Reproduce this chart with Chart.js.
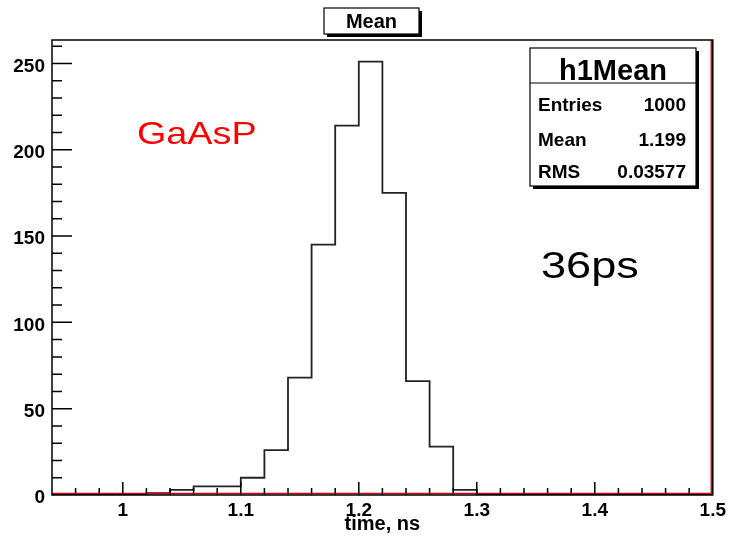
<!DOCTYPE html>
<html lang="en-US">
  <head>
    <meta charset="utf-8" />
    <title>h1Mean</title>
    <script src="https://cdn.jsdelivr.net/npm/chart.js@4/dist/chart.umd.min.js"></script>
    <style>
      html, body { margin: 0; padding: 0; background: #fff; }
      #wrap { width: 730px; height: 543px; }
    </style>
  </head>
  <body>
    <div id="wrap"><canvas id="chart0" width="730" height="543"></canvas></div>
  </body>

  <script>
    // histogram h1Mean: 28 bins of 0.02 ns from 0.94 to 1.5
    const binLowEdges = [0.94, 0.96, 0.98, 1.00, 1.02, 1.04, 1.06, 1.08, 1.10, 1.12, 1.14, 1.16, 1.18, 1.20,
                         1.22, 1.24, 1.26, 1.28, 1.30, 1.32, 1.34, 1.36, 1.38, 1.40, 1.42, 1.44, 1.46, 1.48]
    const binCounts = [0, 0, 0, 0, 1, 3, 5, 5, 10, 26, 68, 145, 214, 251,
                       175, 66, 28, 3, 0, 0, 0, 0, 0, 0, 0, 0, 0, 0]
    const xMax = 1.5
    const yMax = 263.55

    const xTickValues = [1, 1.1, 1.2, 1.3, 1.4, 1.5]
    const yTickValues = [0, 50, 100, 150, 200, 250]

    const histTitle = "Mean"
    const statsName = "h1Mean"
    const statsLabels = ["Entries", "Mean", "RMS"]
    const statsValues = ["1000", "1.199", "0.03577"]

    const FONT = "'Liberation Sans', Arial, Helvetica, sans-serif"
    Chart.defaults.font.family = FONT

    // step outline: one point per low edge, plus the upper edge of the last bin
    const points = binLowEdges.map((x, i) => ({ x: x, y: binCounts[i] }))
    points.push({ x: xMax, y: binCounts[binCounts.length - 1] })

    function stretchedText(ctx, text, x, y, size, color, sx) {
      ctx.save()
      ctx.font = size + "px " + FONT
      ctx.fillStyle = color
      ctx.textAlign = "left"
      ctx.textBaseline = "alphabetic"
      ctx.translate(x, y)
      ctx.scale(sx, 1)
      ctx.fillText(text, 0, 0)
      ctx.restore()
    }

    function shadowBox(ctx, x, y, w, h) {
      ctx.fillStyle = "#000"
      ctx.fillRect(x + 3, y + 3, w, h)
      ctx.fillStyle = "#fff"
      ctx.fillRect(x, y, w, h)
      ctx.strokeStyle = "#000"
      ctx.lineWidth = 1.2
      ctx.strokeRect(x, y, w, h)
    }

    const rootFrame = {
      id: "rootFrame",
      afterDraw(chart) {
        const ctx = chart.ctx
        const { left, right, top, bottom } = chart.chartArea
        const xs = chart.scales.x
        const ys = chart.scales.y

        ctx.save()
        // red lines along bottom and right
        ctx.strokeStyle = "#e00000"
        ctx.lineWidth = 1.5
        ctx.beginPath()
        ctx.moveTo(left, bottom - 1.5)
        ctx.lineTo(right - 1.5, bottom - 1.5)
        ctx.lineTo(right - 1.5, top)
        ctx.stroke()

        // frame
        ctx.strokeStyle = "#000"
        ctx.lineWidth = 1.5
        ctx.strokeRect(left, top, right - left, bottom - top)

        // inward ticks
        ctx.lineWidth = 1.5
        ctx.beginPath()
        for (let i = 1; i < binLowEdges.length; i++) {
          const v = binLowEdges[i]
          const px = xs.getPixelForValue(v)
          const major = xTickValues.some(t => Math.abs(t - v) < 1e-6)
          ctx.moveTo(px, bottom)
          ctx.lineTo(px, bottom - (major ? 13 : 7))
        }
        for (let v = 10; v <= 260; v += 10) {
          const py = ys.getPixelForValue(v)
          const major = yTickValues.includes(v)
          ctx.moveTo(left, py)
          ctx.lineTo(left + (major ? 20 : 10), py)
        }
        ctx.stroke()

        // title box
        shadowBox(ctx, 324, 8, 95, 26)
        ctx.fillStyle = "#000"
        ctx.font = "bold 20px " + FONT
        ctx.textAlign = "center"
        ctx.textBaseline = "alphabetic"
        ctx.fillText(histTitle, 371.5, 28)

        // stats box
        shadowBox(ctx, 530, 48, 166, 138)
        ctx.beginPath()
        ctx.moveTo(530, 83)
        ctx.lineTo(696, 83)
        ctx.stroke()
        ctx.fillStyle = "#000"
        ctx.font = "bold 29px " + FONT
        ctx.textAlign = "center"
        ctx.fillText(statsName, 613, 80)
        ctx.font = "bold 19px " + FONT
        const rowY = [111, 146, 178]
        statsLabels.forEach((lab, i) => {
          ctx.textAlign = "left"
          ctx.fillText(lab, 538, rowY[i])
          ctx.textAlign = "right"
          ctx.fillText(statsValues[i], 686, rowY[i])
        })

        // annotations
        stretchedText(ctx, "GaAsP", 137, 144, 32, "#ff0000", 1.18)
        stretchedText(ctx, "36ps", 541, 278, 37, "#000", 1.22)
        ctx.restore()
      },
    }

    var chart0 = new Chart(document.getElementById("chart0").getContext("2d"), {
      type: "line",
      data: {
        datasets: [
          {
            data: points,
            stepped: "before",
            borderColor: "#222",
            borderWidth: 1.8,
            pointRadius: 0,
            fill: false,
          },
        ],
      },
      options: {
        responsive: false,
        animation: false,
        events: [],
        layout: { padding: { left: 0, right: 16, top: 40, bottom: 0 } },
        plugins: {
          legend: { display: false },
          tooltip: { enabled: false },
          title: { display: false },
        },
        scales: {
          x: {
            type: "linear",
            min: 0.94,
            max: xMax,
            grid: { display: false, drawTicks: false },
            border: { display: false },
            afterBuildTicks: scale => {
              scale.ticks = xTickValues.map(v => ({ value: v }))
            },
            afterFit: scale => {
              scale.height = 48
            },
            ticks: {
              padding: 4,
              maxRotation: 0,
              autoSkip: false,
              color: "#000",
              font: { size: 19, weight: "bold" },
              callback: v => String(+v.toFixed(2)),
            },
            title: {
              display: true,
              text: "time, ns",
              color: "#000",
              font: { size: 20, weight: "bold" },
              padding: { top: 0, bottom: 7 },
            },
          },
          y: {
            type: "linear",
            min: 0,
            max: yMax,
            grid: { display: false, drawTicks: false },
            border: { display: false },
            afterBuildTicks: scale => {
              scale.ticks = yTickValues.map(v => ({ value: v }))
            },
            afterFit: scale => {
              scale.width = 52
            },
            ticks: {
              padding: 7,
              labelOffset: 3,
              color: "#000",
              font: { size: 19, weight: "bold" },
            },
          },
        },
      },
      plugins: [rootFrame],
    })
  </script>
</html>
